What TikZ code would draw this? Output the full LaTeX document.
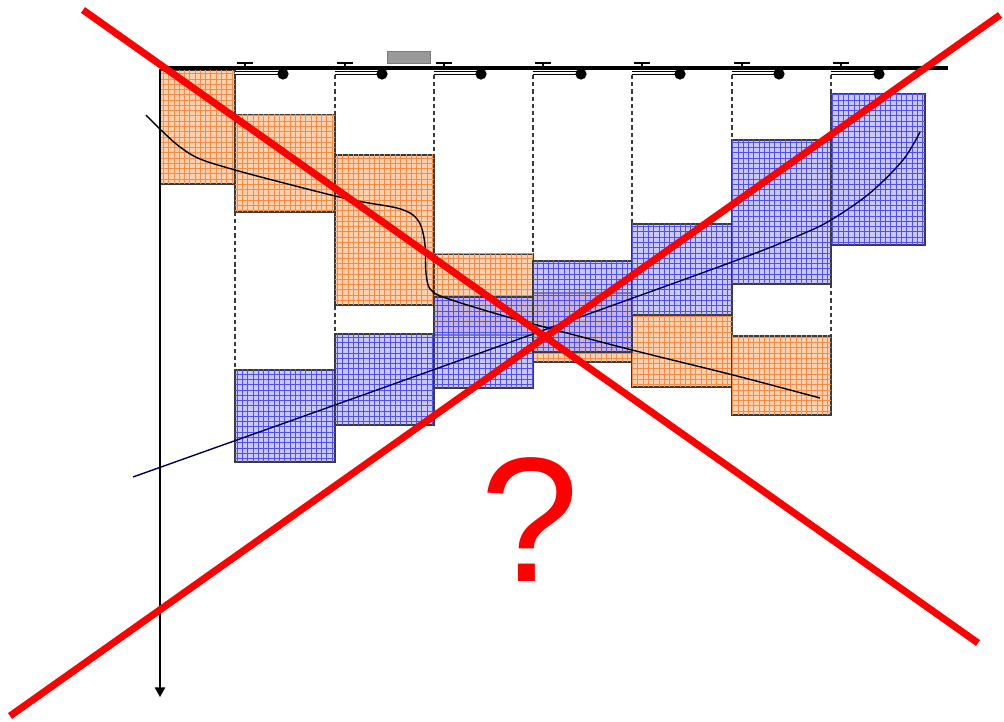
\documentclass[tikz,border=0pt]{standalone}
\usepackage{xcolor}
\usepackage{fontspec}
\setmainfont{Liberation Sans}
\usetikzlibrary{arrows.meta,patterns}
\definecolor{ink}{HTML}{000000}
\definecolor{edge}{HTML}{3A3A3A}
\definecolor{orangefill}{HTML}{FFD0AE}
\definecolor{orangegrid}{HTML}{F28C46}
\definecolor{bluefill}{HTML}{A6A6FF}
\definecolor{bluegrid}{HTML}{5050F0}
\definecolor{navy}{HTML}{000050}
\definecolor{cross}{HTML}{FF0000}
\definecolor{tag}{HTML}{999999}

\begin{document}
\begin{tikzpicture}[
  x=0.02cm, y=-0.02cm,
  >=Latex,
  orangebox/.style={draw=edge,line width=0.75pt,fill=orangefill,
                    postaction={pattern=grid,pattern color=orangegrid}},
  bluebox/.style={draw=edge,line width=0.75pt,fill=bluefill,fill opacity=0.62,
                  postaction={pattern=grid,pattern color=bluegrid}},
  divider/.style={draw=edge,line width=0.7pt,dash pattern=on 2.4pt off 1.7pt},
  bar/.style={draw=ink,line width=2.6pt},
  tee/.style={draw=ink,line width=0.6pt},
  rail/.style={draw=ink,double=white,double distance=1.1pt,line width=0.5pt},
  knob/.style={fill=ink,circle,inner sep=0pt,minimum size=6.4pt},
  curve/.style={draw=ink,line width=0.8pt,smooth,tension=0.55},
  strike/.style={draw=cross,line width=4pt},
  qmark/.style={text=cross,inner sep=0pt,font=\fontsize{101}{101}\selectfont}
]
\useasboundingbox (0,0) rectangle (1004,722);

% Column dividers
\draw[divider] (235,75) -- (235,370);
\draw[divider] (335,75) -- (335,425);
\draw[divider] (434,75) -- (434,425);
\draw[divider] (533,75) -- (533,388);
\draw[divider] (632,75) -- (632,387);
\draw[divider] (732,75) -- (732,415);
\draw[divider] (831,75) -- (831,415);

% Orange boxes
\draw[orangebox] (160,70) rectangle (235,184);
\draw[orangebox] (235,115) rectangle (335,212);
\draw[orangebox] (335,155) rectangle (434,305);
\draw[orangebox] (434,254) rectangle (533,335);
\draw[orangebox] (533,293) rectangle (632,362);
\draw[orangebox] (632,315) rectangle (732,387);
\draw[orangebox] (732,336) rectangle (831,415);

% Blue boxes
\draw[bluebox] (235,370) rectangle (335,462);
\draw[bluebox] (335,334) rectangle (434,425);
\draw[bluebox] (434,297) rectangle (533,388);
\draw[bluebox] (533,261) rectangle (632,352);
\draw[bluebox] (632,224) rectangle (732,315);
\draw[bluebox] (732,140) rectangle (831,284);
\draw[bluebox] (831,94) rectangle (925,245);

% Curves
\draw[curve] plot coordinates {(146,115) (162,131) (180,147) (200,159) (235,170)
  (280,182) (335,196) (363,202) (397,208) (413,215) (421,226) (425,245)
  (426,273) (430,289) (443,297) (487,311) (533,324) (632,350)
  (733,375) (820,398)};
\draw[curve,draw=navy] plot coordinates {(133,477) (335,405) (533,334)
  (732,262) (800,235) (831,220) (870,193) (903,160) (920,132)};

% Axis
\draw[line width=0.8pt,-{Triangle[width=6pt,length=5.5pt]}] (160,70) -- (160,697);

% Top bar with markers
\draw[fill=tag,draw=tag!80!black,line width=0.4pt] (387,51) rectangle (430,63);
\draw[bar] (160,68) -- (948,68);
\draw[rail] (235,73) -- (283,73);
\draw[rail] (335,73) -- (382,73);
\draw[rail] (434,73) -- (481,73);
\draw[rail] (533,73) -- (581,73);
\draw[rail] (632,73) -- (680,73);
\draw[rail] (732,73) -- (779,73);
\draw[rail] (831,73) -- (879,73);
\draw[tee] (237,63) -- (253,63) (245,63) -- (245,67);
\draw[tee] (337,63) -- (353,63) (345,63) -- (345,67);
\draw[tee] (436,63) -- (452,63) (444,63) -- (444,67);
\draw[tee] (535,63) -- (551,63) (543,63) -- (543,67);
\draw[tee] (634,63) -- (650,63) (642,63) -- (642,67);
\draw[tee] (734,63) -- (750,63) (742,63) -- (742,67);
\draw[tee] (833,63) -- (849,63) (841,63) -- (841,67);
\node[knob] (k1) at (283,74) {};
\node[knob] (k2) at (382,74) {};
\node[knob] (k3) at (481,74) {};
\node[knob] (k4) at (581,74) {};
\node[knob] (k5) at (680,74) {};
\node[knob] (k6) at (779,74) {};
\node[knob] (k7) at (879,74) {};

% Strike-out
\draw[strike] (83,10) -- (978,643);
\draw[strike] (10,716) -- (1000,15);
\node[qmark] (qmark) at (530,520) {?};

\end{tikzpicture}
\end{document}
